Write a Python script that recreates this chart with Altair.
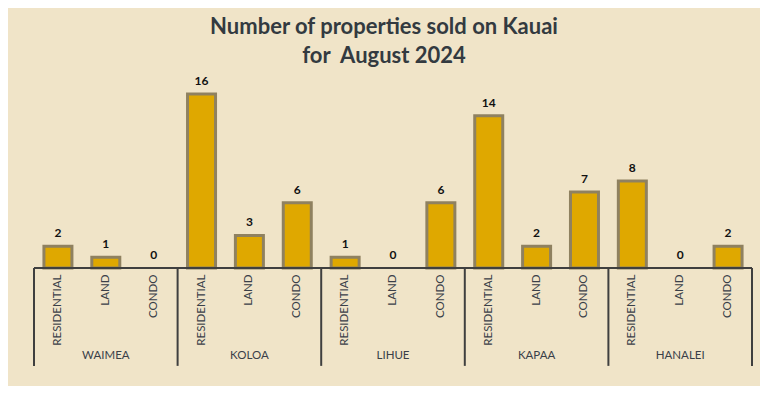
import altair as alt
import pandas as pd

regions = ["WAIMEA", "KOLOA", "LIHUE", "KAPAA", "HANALEI"]
types = ["RESIDENTIAL", "LAND", "CONDO"]
sold = [
    [2, 1, 0],
    [16, 3, 6],
    [1, 0, 6],
    [14, 2, 7],
    [8, 0, 2],
]
title_lines = ["Number of properties sold on Kauai", "for\u00a0\u00a0August 2024"]

rows = []
for gi, r in enumerate(regions):
    for ti, t in enumerate(types):
        rows.append({"region": r, "type": t, "pos": gi * 3 + ti + 0.5,
                     "sold": sold[gi][ti], "label_y": -0.6})
df = pd.DataFrame(rows)

groups = pd.DataFrame({"region": regions,
                       "center": [gi * 3 + 1.5 for gi in range(len(regions))],
                       "gy": [-8.1] * len(regions)})
seps = pd.DataFrame({"b": [gi * 3 for gi in range(len(regions) + 1)],
                     "top": [0] * (len(regions) + 1),
                     "bottom": [-9.0] * (len(regions) + 1)})
axis_df = pd.DataFrame({"x0": [0], "x1": [15], "y0": [0]})

xs = alt.Scale(domain=[0, 15], range=[26, 744], padding=0, nice=False)
ys = alt.Scale(domain=[0, 16], range=[193, 19], padding=0, nice=False)

base = alt.Chart(df)
bars = base.transform_filter("datum.sold > 0").mark_bar(
    size=28, color="#dfa800", stroke="#8f8160", strokeWidth=3).encode(
    x=alt.X("pos:Q", scale=xs, axis=None),
    y=alt.Y("sold:Q", scale=ys, axis=None),
)
vals = base.mark_text(font="Lato", fontWeight="bold", fontSize=12, color="#111111",
                      baseline="bottom", dy=-6).encode(
    x=alt.X("pos:Q", scale=xs), y=alt.Y("sold:Q", scale=ys), text="sold:Q")
cats = base.mark_text(font="Lato", fontSize=11.5, color="#3a3f48", angle=270,
                      align="right", baseline="middle").encode(
    x=alt.X("pos:Q", scale=xs), y=alt.Y("label_y:Q", scale=ys), text="type:N")
grp = alt.Chart(groups).mark_text(font="Lato", fontSize=11.5, color="#3a3f48",
                                   baseline="middle").encode(
    x=alt.X("center:Q", scale=xs), y=alt.Y("gy:Q", scale=ys), text="region:N")
sep = alt.Chart(seps).mark_rule(color="#3f3f3f", strokeWidth=2).encode(
    x=alt.X("b:Q", scale=xs), y=alt.Y("top:Q", scale=ys), y2="bottom:Q")
axl = alt.Chart(axis_df).mark_rule(color="#3f3f3f", strokeWidth=2).encode(
    x=alt.X("x0:Q", scale=xs), x2="x1:Q", y=alt.Y("y0:Q", scale=ys))

chart = alt.layer(bars, axl, sep, vals, cats, grp).properties(
    width=752, height=311,
    autosize=alt.AutoSizeParams(type="none"),
    padding={"top": 67, "left": 0, "right": 0, "bottom": 0},
    background="#f0e4c8",
    title=alt.Title(title_lines, font="Lato", fontSize=22, fontWeight="bold",
                    color="#333a40", lineHeight=29, offset=7, anchor="middle"),
).configure_view(stroke=None)

chart.save("out.html", embed_options={"renderer": "svg", "actions": False})
